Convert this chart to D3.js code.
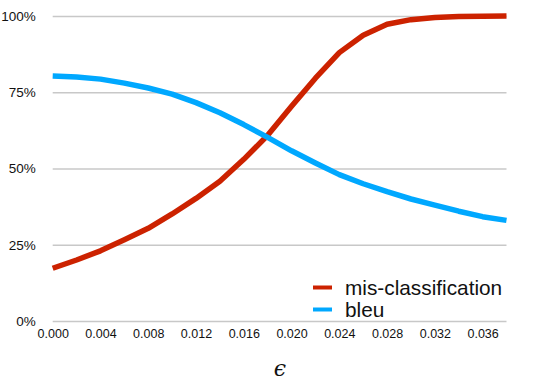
<!DOCTYPE html>
<html>
<head>
<meta charset="utf-8">
<script src="https://cdn.jsdelivr.net/npm/d3@7"></script>
<style>
	body { margin: 0; background: #fff; }
	svg { display: block; font-family: "Liberation Sans", Arial, sans-serif; }
</style>
</head>
<body>
<svg width="539" height="382"></svg>
<script>
// epsilon values, one point every 0.002
let eps = [0.000, 0.002, 0.004, 0.006, 0.008, 0.010, 0.012, 0.014, 0.016, 0.018,
		0.020, 0.022, 0.024, 0.026, 0.028, 0.030, 0.032, 0.034, 0.036, 0.038];
let misclass = [17.3, 20.0, 23.0, 26.6, 30.4, 35.1, 40.2, 45.8, 53.0, 60.9,
		70.4, 79.6, 88.0, 93.7, 97.3, 98.8, 99.5, 99.8, 99.9, 100];
let bleu = [80.3, 80.0, 79.3, 78.0, 76.4, 74.4, 71.6, 68.3, 64.4, 60.2,
		55.8, 51.8, 48.0, 45.0, 42.4, 40.0, 38.0, 36.0, 34.2, 33.0];
let xTicks = [0.000, 0.004, 0.008, 0.012, 0.016, 0.020, 0.024, 0.028, 0.032, 0.036];
let yTicks = [0, 25, 50, 75, 100];
let seriesNames = ['mis-classification', 'bleu'];
let seriesColors = ['#cc2200', '#00a8ff'];

let svg = d3.select("svg");

const x = d3.scaleLinear().domain([0, 0.038]).range([52.7, 506.5]);
const y = d3.scaleLinear().domain([0, 100]).range([321, 16]);

// horizontal grid + y labels
const yAxis = svg.append("g")
		.attr("class", "y-axis")
		.call(d3.axisLeft(y)
			.tickValues(yTicks)
			.tickSize(-(x.range()[1] - x.range()[0]))
			.tickPadding(17)
			.tickFormat(d => d + '%'))
		.attr("transform", "translate(" + x.range()[0] + ",0)");
yAxis.select(".domain").remove();
yAxis.selectAll("line").attr("stroke", "#c8c8c8").attr("stroke-width", 1.5);
yAxis.selectAll("text")
		.attr("font-size", 13.5)
		.attr("fill", "#111")
		.attr("font-family", "Liberation Sans, Arial, sans-serif");

// x labels
const xAxis = svg.append("g")
		.attr("class", "x-axis")
		.attr("transform", "translate(0," + y(0) + ")")
		.call(d3.axisBottom(x)
			.tickValues(xTicks)
			.tickSize(0)
			.tickPadding(8)
			.tickFormat(d3.format(".3f")));
xAxis.select(".domain").remove();
xAxis.selectAll("text")
		.attr("font-size", 12.5)
		.attr("fill", "#111")
		.attr("font-family", "Liberation Sans, Arial, sans-serif");

// lines
const line = d3.line()
		.x((d, i) => x(eps[i]))
		.y(d => y(d));

[misclass, bleu].forEach(function(values, i) {
	svg.append("path")
		.datum(values)
		.attr("fill", "none")
		.attr("stroke", seriesColors[i])
		.attr("stroke-width", 5.5)
		.attr("stroke-linejoin", "round")
		.attr("d", line);
});

// legend
const legend = svg.append("g")
		.attr("class", "legend")
		.selectAll("g")
		.data(seriesNames)
		.enter().append("g")
			.attr("transform", (d, i) => "translate(313," + (287.5 + i * 22) + ")");

legend.append("line")
		.attr("x1", 0).attr("x2", 19)
		.attr("stroke", (d, i) => seriesColors[i])
		.attr("stroke-width", 4);

legend.append("text")
		.attr("x", 32)
		.attr("dy", 7)
		.attr("font-size", 20.8)
		.attr("fill", "#111")
		.text(d => d);

// axis title
svg.append("text")
		.attr("x", 280)
		.attr("y", 376)
		.attr("text-anchor", "middle")
		.attr("font-size", 22)
		.attr("font-style", "italic")
		.attr("fill", "#111")
		.attr("font-family", "DejaVu Serif, serif")
		.text("ϵ");
</script>
</body>
</html>
